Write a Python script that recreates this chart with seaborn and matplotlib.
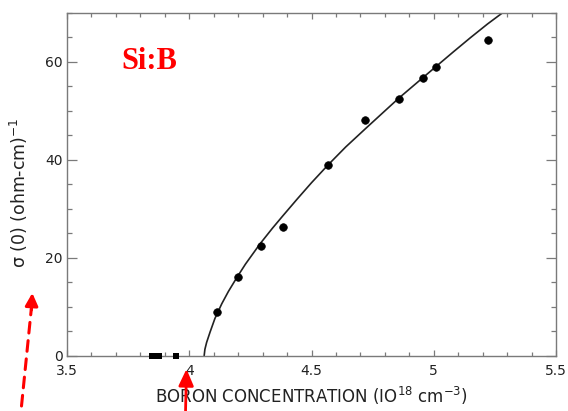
import matplotlib
matplotlib.use("Agg")
import matplotlib.pyplot as plt
from matplotlib.ticker import MultipleLocator
import seaborn as sns
import pandas as pd

# Conductivity extrapolated to T = 0 versus boron concentration in Si:B
conc_metal = [4.112, 4.198, 4.293, 4.382, 4.569, 4.719, 4.859, 4.957, 5.008, 5.223]
sigma_metal = [9.0, 16.0, 22.4, 26.3, 38.9, 48.2, 52.4, 56.7, 59.0, 64.4]

# Insulating samples (sigma(0) = 0)
conc_insul = [3.848, 3.860, 3.877, 3.945]
sigma_insul = [0.0, 0.0, 0.0, 0.0]

# Critical-scaling fit curve
fit_conc = [4.061, 4.064, 4.071, 4.085, 4.105, 4.133, 4.160, 4.194, 4.230, 4.289,
            4.340, 4.382, 4.442, 4.500, 4.569, 4.640, 4.720, 4.790, 4.858, 4.957,
            5.009, 5.080, 5.150, 5.220, 5.290]
fit_sigma = [0.0, 1.3, 2.7, 4.8, 7.6, 10.6, 13.1, 15.9, 18.7, 22.8,
             26.0, 28.5, 32.0, 35.3, 39.0, 42.6, 46.3, 49.5, 52.6, 56.8,
             59.0, 62.0, 64.9, 67.7, 70.3]

x_ticks = [3.5, 4.0, 4.5, 5.0, 5.5]
x_tick_labels = ["3.5", "4", "4.5", "5", "5.5"]
y_ticks = [0, 20, 40, 60]

metal = pd.DataFrame({"n": conc_metal, "sigma": sigma_metal})
insul = pd.DataFrame({"n": conc_insul, "sigma": sigma_insul})
fit = pd.DataFrame({"n": fit_conc, "sigma": fit_sigma})

sns.set_style("ticks")
plt.rcParams["font.family"] = ["DejaVu Sans"]

fig = plt.figure(figsize=(5.68, 4.11), dpi=100)
ax = fig.add_axes([67 / 568, 1 - 355.7 / 411, (556 - 67) / 568, (355.7 - 12.7) / 411])

sns.lineplot(data=fit, x="n", y="sigma", ax=ax, color="#222222", linewidth=1.2,
             sort=False, estimator=None)
sns.scatterplot(data=metal, x="n", y="sigma", ax=ax, color="black", s=30,
                marker="o", edgecolor="black", linewidth=0.5, zorder=5)
sns.scatterplot(data=insul, x="n", y="sigma", ax=ax, color="black", s=20,
                marker="s", edgecolor="black", linewidth=0, zorder=5, clip_on=False)

ax.set_xlim(3.5, 5.5)
ax.set_ylim(0, 70)
ax.set_xticks(x_ticks)
ax.set_xticklabels(x_tick_labels)
ax.set_yticks(y_ticks)
ax.xaxis.set_minor_locator(MultipleLocator(0.1))
ax.yaxis.set_minor_locator(MultipleLocator(5))

spine_col = "#7a7a7a"
for s in ax.spines.values():
    s.set_color(spine_col)
    s.set_linewidth(1.0)

ax.tick_params(which="both", direction="in", top=True, right=True,
               color=spine_col, width=0.9, labelcolor="#222222", labelsize=10)
ax.tick_params(axis="y", which="major", length=7, pad=3)
ax.tick_params(axis="y", which="minor", length=3.5)
ax.tick_params(axis="x", which="major", length=4.5, pad=6)
ax.tick_params(axis="x", which="minor", length=3)

ax.set_xlabel("BORON CONCENTRATION (IO$^{18}$ cm$^{-3}$)", fontsize=12,
              color="#222222", labelpad=5)
ax.set_ylabel("σ (0) (ohm-cm)$^{-1}$", fontsize=12.5, color="#222222")
ax.yaxis.set_label_coords(-0.076, 0.474)

ax.text(3.724, 58.5, "Si:B", color="red", fontsize=22, fontweight="bold",
        family="Liberation Serif", ha="left", va="baseline")

# Red arrows below the axes: dashed shaft plus head, and a solid arrow
ax.annotate("", xy=(31.6, 411 - 306), xycoords="figure pixels",
            xytext=(21.5, 411 - 406), textcoords="figure pixels",
            arrowprops=dict(arrowstyle="-", color="red", linestyle=(0, (3.5, 2.5)),
                            linewidth=2.2, shrinkA=0, shrinkB=0),
            annotation_clip=False)
ax.annotate("", xy=(32.3, 411 - 293), xycoords="figure pixels",
            xytext=(31.4, 411 - 310), textcoords="figure pixels",
            arrowprops=dict(arrowstyle="-|>,head_length=0.75,head_width=0.38",
                            color="red", linewidth=2.2, shrinkA=0, shrinkB=0),
            annotation_clip=False)
ax.annotate("", xy=(186.5, 411 - 369), xycoords="figure pixels",
            xytext=(185.5, 411 - 413), textcoords="figure pixels",
            arrowprops=dict(arrowstyle="-|>,head_length=1.0,head_width=0.45",
                            color="red", linewidth=2, shrinkA=0, shrinkB=0),
            annotation_clip=False)

fig.savefig("out.png", dpi=100)
